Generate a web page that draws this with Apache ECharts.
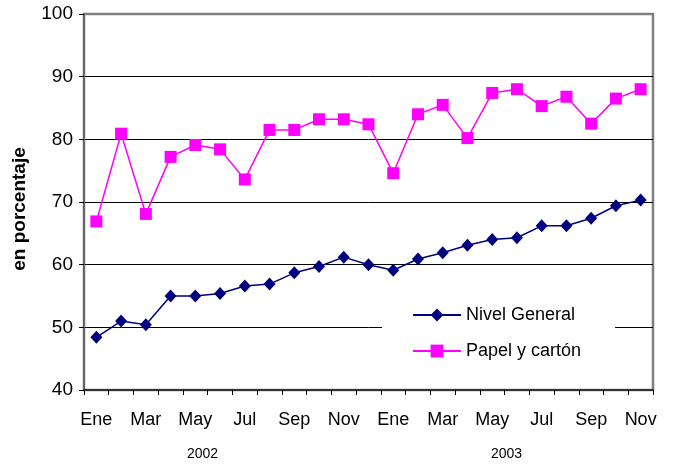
<!DOCTYPE html>
<html>
<head>
<meta charset="utf-8">
<script src="https://cdn.jsdelivr.net/npm/echarts@6/dist/echarts.min.js"></script>
<style>
  html, body { margin: 0; padding: 0; background: #fff; }
  #chart { width: 676px; height: 466px; }
</style>
</head>
<body>
<div id="chart"></div>
<script>
  // meses ene 2002 - nov 2003
  var months = ['Ene','Feb','Mar','Abr','May','Jun','Jul','Ago','Sep','Oct','Nov','Dic',
                'Ene','Feb','Mar','Abr','May','Jun','Jul','Ago','Sep','Oct','Nov'];
  var nivelGeneral = [48.4, 51.0, 50.4, 55.0, 55.0, 55.4, 56.6, 56.9, 58.7, 59.7, 61.2, 60.0,
                      59.1, 60.9, 61.9, 63.1, 64.0, 64.3, 66.2, 66.2, 67.4, 69.4, 70.3];
  var papelCarton = [66.9, 80.9, 68.1, 77.2, 79.1, 78.4, 73.6, 81.5, 81.5, 83.2, 83.2, 82.4,
                     74.6, 84.0, 85.5, 80.2, 87.4, 88.0, 85.3, 86.8, 82.5, 86.5, 88.0];
  var years = ['2002', '2003'];

  var font = 'Liberation Sans, Arial, sans-serif';

  var chart = echarts.init(document.getElementById('chart'));
  var option = {
    animation: false,
    backgroundColor: '#fff',
    grid: {
      left: 84, right: 23, top: 14, bottom: 76,
      show: true,
      borderColor: '#808080',
      borderWidth: 2.5
    },
    legend: {
      orient: 'vertical',
      left: 382,
      top: 296,
      padding: [10, 34, 10, 30],
      backgroundColor: '#fff',
      itemWidth: 48,
      itemHeight: 16,
      itemGap: 18,
      textStyle: { fontFamily: font, fontSize: 18, color: '#000' },
      data: ['Nivel General', 'Papel y cartón']
    },
    xAxis: {
      type: 'category',
      data: months,
      boundaryGap: true,
      axisLine: { lineStyle: { color: '#333', width: 2 } },
      axisTick: { show: true, interval: 0, length: 5, lineStyle: { color: '#000' } },
      axisLabel: {
        interval: 1,
        margin: 21,
        color: '#000',
        fontFamily: font,
        fontSize: 18
      }
    },
    yAxis: {
      type: 'value',
      min: 40,
      max: 100,
      interval: 10,
      name: 'en porcentaje',
      nameLocation: 'middle',
      nameGap: 55,
      nameTextStyle: {
        fontFamily: font, fontSize: 19, fontWeight: 'bold', color: '#000',
        padding: [0, 14, 0, 0]
      },
      axisLine: { show: true, lineStyle: { color: '#666', width: 2 } },
      axisTick: { show: true, length: 5, lineStyle: { color: '#000' } },
      axisLabel: { margin: 11, color: '#000', fontFamily: font, fontSize: 19 },
      splitLine: {
        lineStyle: {
          color: ['#000', '#000', '#000', '#000', '#000', '#000', '#808080'],
          width: 1
        }
      }
    },
    graphic: [
      { type: 'text', left: 203 - 16, top: 447, style: { text: years[0], fontFamily: font, fontSize: 14, fill: '#000' } },
      { type: 'text', left: 507 - 16, top: 447, style: { text: years[1], fontFamily: font, fontSize: 14, fill: '#000' } }
    ],
    series: [
      {
        name: 'Nivel General',
        type: 'line',
        data: nivelGeneral,
        symbol: 'diamond',
        symbolSize: [12, 13],
        color: '#000080',
        lineStyle: { width: 1.5, color: '#000080' },
        itemStyle: { color: '#000080' }
      },
      {
        name: 'Papel y cartón',
        type: 'line',
        data: papelCarton,
        symbol: 'rect',
        symbolSize: 12,
        color: '#ff00ff',
        lineStyle: { width: 1.5, color: '#ff00ff' },
        itemStyle: { color: '#ff00ff' }
      }
    ]
  };
  chart.setOption(option);
</script>
</body>
</html>
